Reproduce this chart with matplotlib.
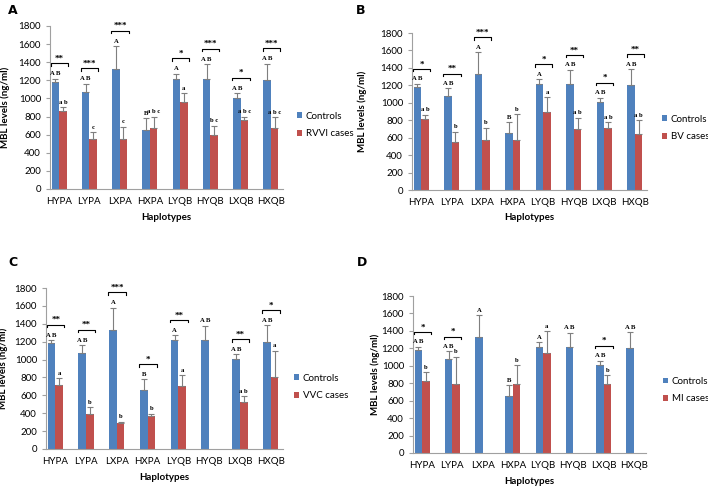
import numpy as np
import matplotlib
matplotlib.use('Agg')
import matplotlib.pyplot as plt

plt.rcParams['font.family'] = ['Lato', 'DejaVu Sans']

nan = np.nan
haplotypes = ['HYPA', 'LYPA', 'LXPA', 'HXPA', 'LYQB', 'HYQB', 'LXQB', 'HXQB']

controls = [1180, 1075, 1330, 655, 1215, 1215, 1010, 1200]
controls_err = [40, 90, 250, 125, 60, 165, 50, 185]
controls_letters = ['A B', 'A B', 'A', 'B', 'A', 'A B', 'A B', 'A B']

rvvi = [860, 555, 550, 675, 960, 600, 765, 670]
rvvi_err = [40, 75, 140, 125, 95, 100, 35, 120]
rvvi_letters = ['a b', 'c', 'c', 'a b c', 'a', 'b c', 'a b c', 'a b c']
rvvi_stars = ['**', '***', '***', '', '*', '***', '*', '***']

bv = [810, 555, 570, 570, 890, 705, 715, 645]
bv_err = [55, 115, 145, 300, 175, 125, 60, 155]
bv_letters = ['a b', 'b', 'b', 'b', 'a', 'a b', 'a b', 'a b']
bv_stars = ['*', '**', '***', '', '*', '**', '*', '**']

vvc = [715, 390, 295, 370, 700, nan, 530, 800]
vvc_err = [80, 80, 10, 25, 130, nan, 65, 300]
vvc_letters = ['a', 'b', 'b', 'b', 'a', '', 'a b', 'a']
vvc_stars = ['**', '**', '***', '*', '**', '', '**', '*']

mi = [825, 795, nan, 795, 1145, nan, 790, nan]
mi_err = [105, 310, nan, 215, 255, nan, 100, nan]
mi_letters = ['b', 'b', '', 'b', 'a', '', 'b', '']
mi_stars = ['*', '*', '', '', '', '', '*', '']

BLUE = '#4F81BD'
RED = '#C0504D'
W = 0.25
FS = 7


def draw_panel(ax, cases, cases_err, case_letters, stars, label):
    x = np.arange(len(haplotypes))
    cases = np.array(cases, dtype=float)
    cases_err = np.array(cases_err, dtype=float)
    ax.bar(x - W / 2, controls, W, color=BLUE, label='Controls', zorder=2)
    ok = ~np.isnan(cases)
    ax.bar(x[ok] + W / 2, cases[ok], W, color=RED, label=label, zorder=2)
    ax.errorbar(x - W / 2, controls, yerr=[np.zeros(8), controls_err], fmt='none',
                ecolor='#7f7f7f', elinewidth=0.8, capsize=2.5, capthick=0.8, zorder=3)
    ax.errorbar(x[ok] + W / 2, cases[ok], yerr=[np.zeros(ok.sum()), cases_err[ok]], fmt='none',
                ecolor='#7f7f7f', elinewidth=0.8, capsize=2.5, capthick=0.8, zorder=3)
    for i in range(8):
        ctop = controls[i] + controls_err[i]
        ax.text(x[i] - W / 2, ctop + 25, controls_letters[i], ha='center', va='bottom',
                fontsize=4.8, fontweight='bold', family='Liberation Serif')
        top = ctop
        if ok[i]:
            rtop = cases[i] + cases_err[i]
            top = max(top, rtop)
            ax.text(x[i] + W / 2, rtop + 25, case_letters[i], ha='center', va='bottom',
                    fontsize=4.8, fontweight='bold', family='Liberation Serif')
        if stars[i]:
            yb = top + 170
            x0, x1 = x[i] - 0.27, x[i] + 0.3
            ax.plot([x0, x0, x1, x1], [yb - 30, yb, yb, yb - 30], color='black', lw=0.8,
                    clip_on=False, zorder=4)
            ax.text((x0 + x1) / 2, yb + 5, stars[i], ha='center', va='bottom',
                    fontsize=6.5, fontweight='bold', family='Liberation Serif')
    ax.set_xlim(-0.3, 7.4)
    ax.set_ylim(0, 1800)
    ax.set_yticks(range(0, 1801, 200))
    ax.set_xticks(x)
    ax.set_xticklabels(haplotypes)
    ax.tick_params(axis='x', length=0, labelsize=FS, pad=6)
    ax.tick_params(axis='y', length=3, color='#a0a0a0', labelsize=FS)
    for s in ['top', 'right']:
        ax.spines[s].set_visible(False)
    ax.spines['left'].set_color('#a0a0a0')
    ax.spines['bottom'].set_color('#a0a0a0')
    ax.set_ylabel('MBL levels (ng/ml)', fontsize=FS, fontweight='bold')
    ax.set_xlabel('Haplotypes', fontsize=FS, fontweight='bold')


fig = plt.figure(figsize=(7.08, 4.87), dpi=100)
H = 487.0
Wf = 708.0

# axes boxes in pixels: left, right, y of 0, y of 1800
boxes = [(50, 283, 189, 26), (412, 647, 190, 33), (46, 283, 449, 288), (413, 646, 453, 296)]

panels = [
    (rvvi, rvvi_err, rvvi_letters, rvvi_stars, 'RVVI cases', 'A', (8, 10), (297, 125), 10, 218),
    (bv, bv_err, bv_letters, bv_stars, 'BV cases', 'B', (356, 10), (662, 128), 367, 218),
    (vvc, vvc_err, vvc_letters, vvc_stars, 'VVC cases', 'C', (8, 262), (294, 387), 8, 478),
    (mi, mi_err, mi_letters, mi_stars, 'MI cases', 'D', (357, 262), (663, 390), 380, 482),
]

for (l, r, y0, y1), (c, ce, cl, st, lab, letter, lpos, legpos, ylx, xly) in zip(boxes, panels):
    ax = fig.add_axes([l / Wf, 1 - y0 / H, (r - l) / Wf, (y0 - y1) / H])
    draw_panel(ax, c, ce, cl, st, lab)
    ax.yaxis.set_label_coords((ylx - l) / (r - l), 0.5)
    ax.xaxis.label.set_va('center')
    ax.xaxis.set_label_coords(0.5, (y0 - xly) / (y0 - y1))
    fig.text(lpos[0] / Wf, 1 - lpos[1] / H, letter, fontsize=9, fontweight='bold',
             ha='left', va='center', family='DejaVu Sans')
    ax.legend(loc='center left', bbox_to_anchor=(legpos[0] / Wf, 1 - legpos[1] / H),
              bbox_transform=fig.transFigure, frameon=False, fontsize=7,
              handlelength=0.55, handleheight=0.55, handletextpad=0.35, labelspacing=0.85,
              borderaxespad=0, borderpad=0)

fig.savefig('out.png', dpi=100)
